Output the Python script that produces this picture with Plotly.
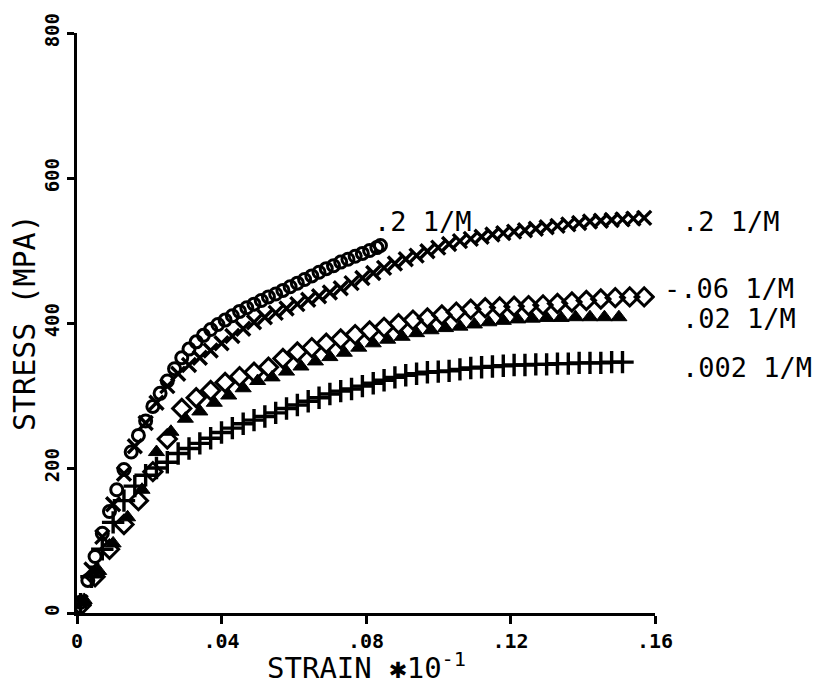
import plotly.graph_objects as go

# ---- data ----
circ_x = [0.001,0.003,0.005,0.007,0.009,0.011,0.013,0.015,0.017,0.019,0.021,0.023,0.025,0.027,0.029,
          0.031,0.033,0.035,0.037,0.039,0.041,0.043,0.045,0.047,0.049,0.051,0.053,0.055,0.057,0.059,
          0.061,0.063,0.065,0.067,0.069,0.071,0.073,0.075,0.077,0.079,0.081,0.083,0.084]
circ_y = [15,45,78,110,140,170,198,222,245,265,285,303,320,337,352,
          364,374,383,391,398,404,410,416,421,426,431,436,440,445,450,
          455,460,465,470,475,479,484,488,492,496,500,504,507]

xm_x = [0.001,0.004,0.007,0.010,0.013,0.016,0.019,0.022,0.025,0.028,0.031,0.034,0.037,0.040,0.043,
        0.046,0.049,0.052,0.055,0.058,0.061,0.064,0.067,0.070,0.073,0.076,0.079,0.082,0.085,0.088,
        0.091,0.094,0.097,0.100,0.103,0.106,0.109,0.112,0.115,0.118,0.121,0.124,0.127,0.130,0.133,
        0.136,0.139,0.142,0.145,0.148,0.151,0.154,0.157]
xm_y = [15,60,105,150,192,230,262,290,313,330,342,352,362,372,382,
        392,401,408,414,420,426,432,437,442,448,455,462,469,476,482,
        488,493,499,504,509,513,516,519,522,524,526,528,530,532,534,
        536,538,540,541,542,543,544,545]

dia_x = [0.001,0.005,0.009,0.013,0.017,0.021,0.025,0.029,0.033,0.037,0.041,0.045,0.049,0.053,0.057,
         0.061,0.065,0.069,0.073,0.077,0.081,0.085,0.089,0.093,0.097,0.101,0.105,0.109,0.113,0.117,
         0.121,0.125,0.129,0.133,0.137,0.141,0.145,0.149,0.153,0.157]
dia_y = [10,50,88,122,155,195,240,282,297,307,318,326,332,339,351,
         360,366,372,378,384,389,394,399,404,407,411,415,419,421,422,
         423,424,425,427,429,431,433,435,436,436]

tri_x = [0.002,0.006,0.010,0.014,0.018,0.022,0.026,0.030,0.034,0.038,0.042,0.046,0.050,0.054,0.058,
         0.062,0.066,0.070,0.074,0.078,0.082,0.086,0.090,0.094,0.098,0.102,0.106,0.110,0.114,0.118,
         0.122,0.126,0.130,0.134,0.138,0.142,0.146,0.150]
tri_y = [18,58,96,132,170,222,250,268,278,290,300,310,320,325,333,
         340,347,353,359,366,372,377,381,386,390,393,395,398,401,403,
         405,406,407,407,408,408,408,408]

plus_x = [0.001,0.004,0.007,0.010,0.013,0.016,0.019,0.022,0.025,0.028,0.031,0.034,0.037,0.040,0.043,
          0.046,0.049,0.052,0.055,0.058,0.061,0.064,0.067,0.070,0.073,0.076,0.079,0.082,0.085,0.088,
          0.091,0.094,0.097,0.100,0.103,0.106,0.109,0.112,0.115,0.118,0.121,0.124,0.127,0.130,0.133,
          0.136,0.139,0.142,0.145,0.148,0.151]
plus_y = [12,50,88,125,155,175,190,200,208,220,227,234,241,249,255,
          261,266,271,276,282,287,292,297,302,306,309,313,317,321,325,
          328,330,332,333,334,336,338,339,340,341,342,342,343,343,344,
          344,345,345,345,346,346]

x_tickvals = [0, 0.04, 0.08, 0.12, 0.16]
x_ticktext = ["0", ".04", ".08", ".12", ".16"]
y_tickvals = [0, 200, 400, 600, 800]
y_ticktext = ["0", "200", "400", "600", "800"]

rate_labels = [".2 1/M", ".2 1/M", "-.06 1/M", ".02 1/M", ".002 1/M"]

FONT = "DejaVu Sans Mono"

fig = go.Figure()
fig.add_trace(go.Scatter(x=circ_x, y=circ_y, mode="markers",
    marker=dict(symbol="circle-open", size=12, color="black", line=dict(width=3, color="black"))))
fig.add_trace(go.Scatter(x=xm_x, y=xm_y, mode="markers",
    marker=dict(symbol="x-thin-open", size=14, color="black", line=dict(width=3.4, color="black"))))
fig.add_trace(go.Scatter(x=dia_x, y=dia_y, mode="markers",
    marker=dict(symbol="diamond-open", size=14, color="black", line=dict(width=3, color="black"))))
fig.add_trace(go.Scatter(x=tri_x, y=tri_y, mode="markers",
    marker=dict(symbol="triangle-up", size=14, color="black", line=dict(width=1, color="black"))))
fig.add_trace(go.Scatter(x=plus_x, y=plus_y, mode="markers",
    marker=dict(symbol="cross-thin-open", size=16, color="black", line=dict(width=3.4, color="black"))))

ann_font = dict(family=FONT, size=27, color="black")
annotations = [
    dict(x=0.511, y=540, xref="paper", yref="y", text=rate_labels[0], showarrow=False,
         xanchor="left", yanchor="middle", font=ann_font),
    dict(x=1.043, y=540, xref="paper", yref="y", text=rate_labels[1], showarrow=False,
         xanchor="left", yanchor="middle", font=ann_font),
    dict(x=1.012, y=448, xref="paper", yref="y", text=rate_labels[2], showarrow=False,
         xanchor="left", yanchor="middle", font=ann_font),
    dict(x=1.043, y=406, xref="paper", yref="y", text=rate_labels[3], showarrow=False,
         xanchor="left", yanchor="middle", font=ann_font),
    dict(x=1.043, y=338, xref="paper", yref="y", text=rate_labels[4], showarrow=False,
         xanchor="left", yanchor="middle", font=ann_font),
    dict(x=0, y=0.5, xref="paper", yref="paper", text="STRESS (MPA)", showarrow=False,
         textangle=-90, xanchor="center", yanchor="middle", xshift=-53,
         font=dict(family=FONT, size=30, color="black")),
    dict(x=0.5, y=0, xref="paper", yref="paper", text="STRAIN ✱10<sup>-1</sup>", showarrow=False,
         xanchor="center", yanchor="middle", yshift=-53,
         font=dict(family=FONT, size=29, color="black")),
]

fig.update_layout(
    width=830, height=678,
    margin=dict(l=69, r=183, t=25, b=73),
    paper_bgcolor="white", plot_bgcolor="white",
    showlegend=False,
    annotations=annotations,
    xaxis=dict(range=[0, 0.16], tickvals=x_tickvals, ticktext=x_ticktext, automargin=False,
               showgrid=False, zeroline=False, showline=True, linecolor="black", linewidth=3,
               ticks="outside", ticklen=8, tickwidth=3, tickcolor="black",
               tickfont=dict(family=FONT, size=20, color="black", weight="bold")),
    yaxis=dict(range=[0, 800], tickvals=y_tickvals, ticktext=y_ticktext, automargin=False,
               showgrid=False, zeroline=False, showline=True, linecolor="black", linewidth=3,
               ticks="outside", ticklen=7, tickwidth=3, tickcolor="black", tickangle=-90,
               tickfont=dict(family=FONT, size=19, color="black", weight="bold")),
)

fig.write_html("out.html")
